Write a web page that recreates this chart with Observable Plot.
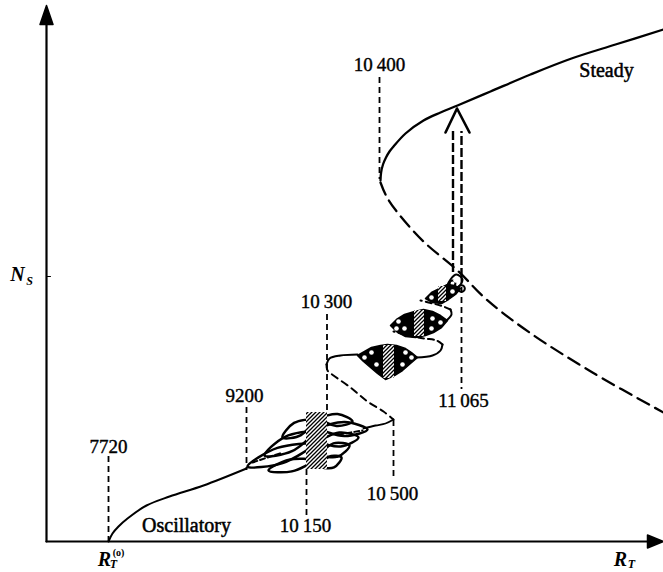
<!DOCTYPE html>
<html><head><meta charset="utf-8">
<script src="https://cdn.jsdelivr.net/npm/d3@7"></script>
<script src="https://cdn.jsdelivr.net/npm/@observablehq/plot@0.6"></script>
<style>body{margin:0;background:#fff}#chart svg{display:block}</style>
</head><body><div id="chart"></div>
<script>
// Schematic: coordinates are picture positions (x right, y down).
const oscillatoryBranch = [[108,541],[112,533],[118,526],[127,518],[146,505],[169,496],[203,485],[246,468]];
const steadyUpper = [[380,180],[380.6,172],[382.5,164],[385.5,157],[389,151],[393,146],[405,133],[423,120],[440,112],[457,105],[490,91],[530,74],[571,58],[615,44],[663,29]];
const steadyLower = [[380,182],[386,196],[397,212],[423,241],[457,270],[486,299],[529,332],[592,372],[663,412]];
const bundle1Exit = [[363,428],[375,425],[385,423],[393,419]];
const middleDashed = [[326,364],[327,370],[333,375],[350,387],[367,401],[383,411],[393,419]];
const upperStart = [[326,364],[329,358],[340,355],[357,354]];
const curl2Solid = [[416,357],[432,355],[440,350],[442,344]];
const curl2Dashed = [[442,344],[436,340],[424,338],[408,335],[393,331]];
const curl3Solid = [[446,320],[451,314],[450,309]];
const curl3Dashed = [[450,309],[440,305],[428,302],[420,300]];

// lobes of the first bundle: tip1 x,y, tip2 x,y, half width
const lobes1 = [
  [247,466,312,444,8],[268,470,312,460,6],[264,455,312,432,8],[282,437,312,420,7],
  [321,418,352,421,6],[321,428,367,429,7],[321,441,358,437,7],[321,454,349,445,7],[321,466,341,457,6]
];
const lobeDashes = [[[252,462],[282,452]],[[338,434],[362,430]]];

const bundle2 = [[357,355],[364,351],[371,347],[380,345],[387,344],[396,345],[405,348],[411,352],[417,357],[410,363],[402,370],[394,375],[385,379],[377,373],[370,367],[363,361]];
const bundle3 = [[390,325],[396,319],[404,314],[414,311],[423,309],[432,311],[440,315],[447,320],[441,327],[433,332],[425,335],[415,337],[405,336],[396,331]];
const bundle4 = [[425,298],[431,292],[439,288],[447,284],[454,285],[460,288],[455,294],[448,299],[441,303],[432,302]];
const bundle5 = [[447,287],[450,279],[456,274],[462,279],[458,286]];
const holes = [[364,357],[371,352],[376,364],[405,352],[402,364],[411,357],
  [398,321],[404,328],[396,328],[432,318],[431,328],[440,322],[431,297],[452,291],[455,280]];
const loops = [[461,288,4],[452,283,3]];

const hatches = [
  {x1:306,x2:327,y1:412,y2:469},{x1:383,x2:394,y1:345,y2:378},
  {x1:414,x2:424,y1:310,y2:336},{x1:438,x2:446,y1:286,y2:301}
];

const markers = [
  {x:108,y1:456,y2:541},{x:246,y1:407,y2:470},{x:306,y1:469,y2:515},
  {x:326.5,y1:314,y2:412},{x:393,y1:420,y2:480},{x:379,y1:77,y2:179},{x:461,y1:277,y2:389}
];
const arrowShafts = [{x:452.5,y1:272,y2:131},{x:461,y1:277,y2:131}];
const arrowHead = [[445,132],[456.5,108],[469,132]];

const numLabels = [
  {t:"10\u2009400",x:379,y:64},{t:"9200",x:244,y:395},{t:"7720",x:108,y:446},
  {t:"10\u2009300",x:326,y:301},{t:"11\u2009065",x:463,y:400},{t:"10\u2009500",x:392,y:493},
  {t:"10\u2009150",x:305,y:525}
];
const wordLabels = [{t:"Oscillatory",x:186,y:525},{t:"Steady",x:606,y:70}];
const symMain = [{t:"N",x:17,y:274},{t:"R",x:104,y:559},{t:"R",x:620,y:559}];
const symSub = [{t:"S",x:29,y:281},{t:"T",x:113,y:564},{t:"T",x:631,y:564}];
const symSup = [{t:"(o)",x:118,y:552}];

const yAxis = [[46,541],[46,22]];
const xAxis = [[46,541],[650,541]];
const yArrow = [[46,5],[39.5,24],[52.5,24]];
const xArrow = [[663,541],[647,534.5],[647,547.5]];
const yTick = [[46,276],[50,276]];

function lobePoints(list){
  const out=[];
  list.forEach(([x1,y1,x2,y2,w],i)=>{
    const mx=(x1+x2)/2,my=(y1+y2)/2,dx=x2-x1,dy=y2-y1,L=Math.hypot(dx,dy);
    const nx=-dy/L*w,ny=dx/L*w;
    out.push({x:x1,y:y1,k:i},{x:mx+nx,y:my+ny,k:i},{x:x2,y:y2,k:i},{x:mx-nx,y:my-ny,k:i});
  });
  return out;
}

const serif = "Liberation Serif";
const svg = Plot.plot({
  width:663, height:572, margin:0,
  x:{domain:[0,663], range:[0,663], axis:null},
  y:{domain:[0,572], range:[0,572], axis:null},
  style:{background:"#fff", overflow:"visible", fontFamily:serif},
  marks:[
    Plot.line(yAxis,{stroke:"black",strokeWidth:2.2}),
    Plot.line(xAxis,{stroke:"black",strokeWidth:2.2}),
    Plot.line(yArrow,{fill:"black",stroke:"black",curve:"linear-closed"}),
    Plot.line(xArrow,{fill:"black",stroke:"black",curve:"linear-closed"}),
    Plot.line(yTick,{stroke:"black",strokeWidth:1}),
    Plot.ruleX(markers,{x:"x",y1:"y1",y2:"y2",stroke:"black",strokeWidth:1.8,strokeDasharray:"6,4"}),
    Plot.line(oscillatoryBranch,{curve:"catmull-rom",stroke:"black",strokeWidth:2}),
    Plot.line(steadyUpper,{curve:"catmull-rom",stroke:"black",strokeWidth:2.3}),
    Plot.line(steadyLower,{curve:"catmull-rom",stroke:"black",strokeWidth:2.3,strokeDasharray:"13,7"}),
    Plot.line(middleDashed,{curve:"catmull-rom",stroke:"black",strokeWidth:2,strokeDasharray:"7,5"}),
    Plot.line(upperStart,{curve:"catmull-rom",stroke:"black",strokeWidth:2}),
    Plot.line(bundle1Exit,{curve:"catmull-rom",stroke:"black",strokeWidth:1.8}),
    Plot.line(curl2Solid,{curve:"catmull-rom",stroke:"black",strokeWidth:2}),
    Plot.line(curl2Dashed,{curve:"catmull-rom",stroke:"black",strokeWidth:2,strokeDasharray:"6,4"}),
    Plot.line(curl3Solid,{curve:"catmull-rom",stroke:"black",strokeWidth:2}),
    Plot.line(curl3Dashed,{curve:"catmull-rom",stroke:"black",strokeWidth:2,strokeDasharray:"6,4"}),
    Plot.line(lobePoints(lobes1),{x:"x",y:"y",z:"k",curve:"catmull-rom-closed",stroke:"black",strokeWidth:2.5,fill:"none"}),
    ...lobeDashes.map(d=>Plot.line(d,{stroke:"black",strokeWidth:2,strokeDasharray:"5,3"})),
    Plot.line(bundle2,{curve:"linear-closed",fill:"black",stroke:"black",strokeWidth:1.5}),
    Plot.line(bundle3,{curve:"linear-closed",fill:"black",stroke:"black",strokeWidth:1.5}),
    Plot.line(bundle4,{curve:"linear-closed",fill:"black",stroke:"black",strokeWidth:1.5}),
    Plot.line(bundle5,{curve:"catmull-rom-closed",fill:"none",stroke:"black",strokeWidth:2}),
    Plot.dot(loops,{x:d=>d[0],y:d=>d[1],r:d=>d[2],stroke:"black",strokeWidth:2,fill:"none"}),
    Plot.rect(hatches,{x1:"x1",x2:"x2",y1:"y1",y2:"y2",fill:"url(#hatch)"}),
    Plot.dot(holes,{x:d=>d[0],y:d=>d[1],r:2.3,fill:"white",stroke:"none"}),
    Plot.ruleX(arrowShafts,{x:"x",y1:"y1",y2:"y2",stroke:"black",strokeWidth:2.4,strokeDasharray:"9,3"}),
    Plot.line(arrowHead,{stroke:"black",strokeWidth:2.6}),
    Plot.text(numLabels,{x:"x",y:"y",text:"t",fontSize:19,fontFamily:serif,fill:"black",stroke:"black",strokeWidth:0.4}),
    Plot.text(wordLabels,{x:"x",y:"y",text:"t",fontSize:20,fontFamily:serif,fill:"black",stroke:"black",strokeWidth:0.5}),
    Plot.text(symMain,{x:"x",y:"y",text:"t",fontSize:20,fontFamily:serif,fontStyle:"italic",fontWeight:"bold",fill:"black"}),
    Plot.text(symSub,{x:"x",y:"y",text:"t",fontSize:12,fontFamily:serif,fontStyle:"italic",fontWeight:"bold",fill:"black"}),
    Plot.text(symSup,{x:"x",y:"y",text:"t",fontSize:10,fontFamily:serif,fontWeight:"bold",fill:"black"})
  ]
});
d3.select(svg).insert("defs",":first-child").html(
  '<pattern id="hatch" patternUnits="userSpaceOnUse" width="4" height="4">' +
  '<rect width="4" height="4" fill="white"/>' +
  '<path d="M-1,1 l2,-2 M0,4 l4,-4 M3,5 l2,-2" stroke="black" stroke-width="1.3"/></pattern>');
document.getElementById("chart").appendChild(svg);
</script>
</body></html>
